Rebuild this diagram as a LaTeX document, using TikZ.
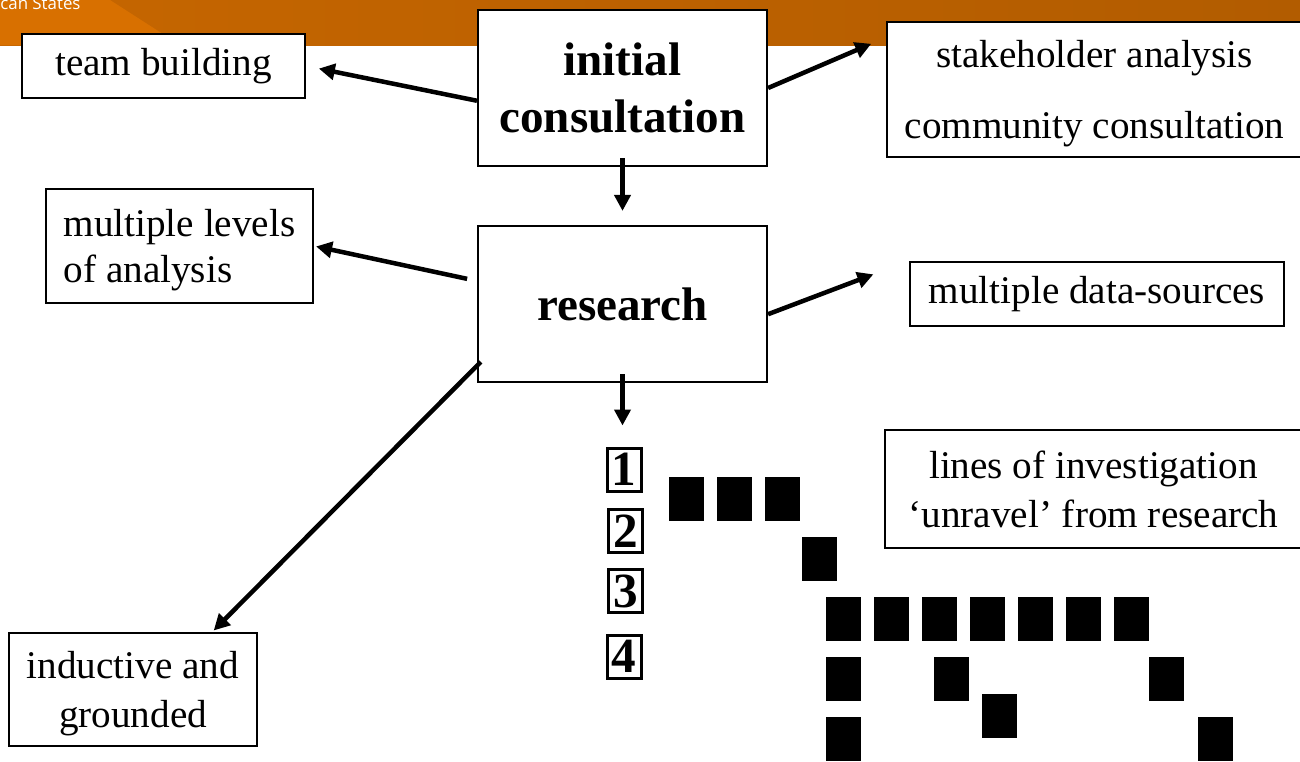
\documentclass[tikz,border=0pt]{standalone}
\usepackage{fontspec}
\setmainfont{Liberation Serif}
\newfontfamily\bannerfont{Open Sans}
\usetikzlibrary{arrows.meta}
\definecolor{bannerlight}{RGB}{216,112,0}
\definecolor{bannermid}{RGB}{198,102,0}
\definecolor{bannerdark}{RGB}{178,92,0}
\tikzset{%
    >={Triangle[length=3.2mm,width=3.2mm]},
    box/.style={draw, fill=white, line width=0.045cm, inner sep=0pt,
      font=\fontsize{22.3}{26.8}\selectfont},
    bigbox/.style={box, minimum width=5.78cm, minimum height=3.12cm,
      font=\fontsize{26.8}{32.9}\selectfont\bfseries},
    numbox/.style={box, line width=0.06cm, minimum width=0.68cm, minimum height=0.86cm,
      font=\fontsize{28}{30}\selectfont\bfseries},
    flow/.style={->, line width=0.09cm},
    block/.style={fill=black}
}

\begin{document}
\begin{tikzpicture}[x=0.02cm, y=-0.02cm]
  \fill[white] (0,0) rectangle (1300,761);
  \useasboundingbox (0,0) rectangle (1300,761);

  % banner
  \shade[left color=bannermid, right color=bannerdark] (0,0) rectangle (1300,45);
  \fill[bannerlight] (0,0) -- (110,0) -- (180,45) -- (0,45) -- cycle;
  \draw (0,9) node[anchor=base west, inner sep=0pt, text=white,
    font=\bannerfont\fontsize{9.6}{11}\selectfont] (org) {can States};

  % boxes
  \draw (622.5,88) node[bigbox, align=center] (init) {initial\\consultation};
  \draw (622.5,304) node[bigbox] (research) {research};
  \draw (163.5,66) node[box, minimum width=5.66cm, minimum height=1.28cm] (team) {team building};
  \draw (1094.5,89.5) node[box, minimum width=8.3cm, minimum height=2.7cm, align=center,
    font=\fontsize{22.3}{40.2}\selectfont, text depth=0pt] (stake) {stakeholder analysis\\community consultation};
  \draw (179.5,246) node[box, minimum width=5.34cm, minimum height=2.28cm, align=left,
    font=\fontsize{22.3}{26.6}\selectfont, text depth=0pt] (levels) {multiple levels\\of analysis};
  \draw (1097,294) node[box, minimum width=7.48cm, minimum height=1.28cm] (sources) {multiple data-sources};
  \draw (1093.5,489) node[box, minimum width=8.34cm, minimum height=2.36cm, align=center,
    font=\fontsize{22.3}{27.8}\selectfont] (lines) {lines of investigation\\‘unravel’ from research};
  \draw (133,689.5) node[box, minimum width=4.96cm, minimum height=2.26cm, align=center,
    font=\fontsize{22.3}{27.8}\selectfont, text depth=0pt] (induct) {inductive and\\grounded};

  % numbered lines
  \draw (624,469.5) node[numbox] (n1) {1};
  \draw (625.5,531) node[numbox] (n2) {2};
  \draw (625.5,591) node[numbox] (n3) {3};
  \draw (624,656.5) node[numbox] (n4) {4};

  % arrows
  \draw[flow, shorten >=0.26cm] (init.185) -- (team.east);
  \draw[flow, shorten >=0.32cm] (init.east) -- (stake.166);
  \draw[flow, shorten <=-0.18cm, shorten >=0.28cm] (init.south) -- (research.north);
  \draw[flow, shorten <=0.2cm, shorten >=0.04cm] (research.171) -- (levels.east);
  \draw[flow, shorten >=0.76cm] (research.356) -- (sources.north west);
  \draw[flow, shorten <=-0.11cm, shorten >=0.04cm] (research.203) -- (induct.36);
  \draw[flow, shorten <=-0.18cm, shorten >=0.42cm] (research.south) -- (research.south |- n1.north);

  % unravelling blocks
  \fill[block] (669,477) rectangle ++(35,44);
  \fill[block] (717,477) rectangle ++(35,44);
  \fill[block] (765,477) rectangle ++(35,44);
  \fill[block] (802,537) rectangle ++(35,44);
  \foreach \x in {826,874,...,1114}
    \fill[block] (\x,597) rectangle ++(35,44);
  \fill[block] (826,657) rectangle ++(35,44);
  \fill[block] (934,657) rectangle ++(35,44);
  \fill[block] (1149,657) rectangle ++(35,44);
  \fill[block] (982,694) rectangle ++(35,44);
  \fill[block] (826,717) rectangle ++(35,44);
  \fill[block] (1198,717) rectangle ++(35,44);
\end{tikzpicture}
\end{document}
